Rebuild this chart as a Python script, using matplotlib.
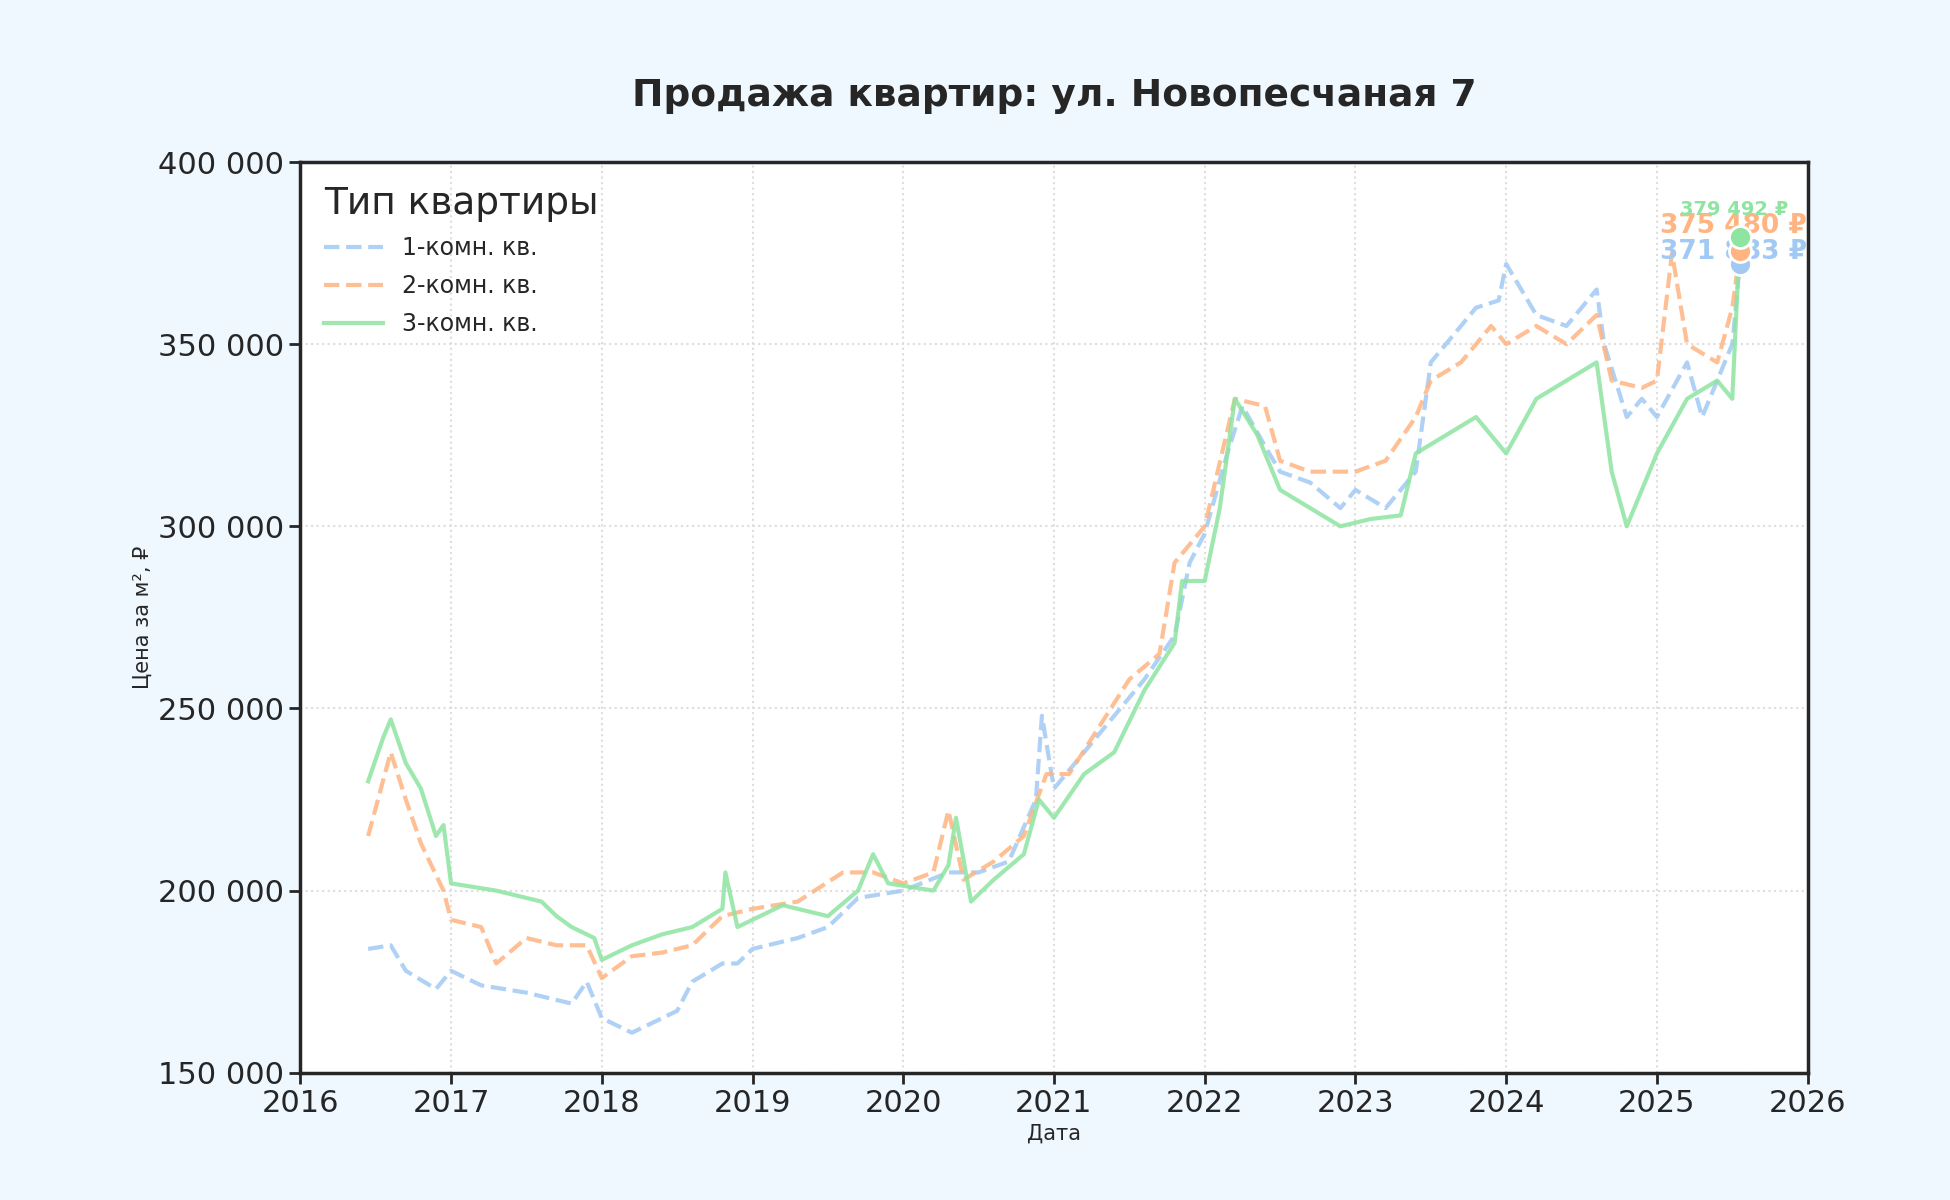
import matplotlib
matplotlib.use("Agg")
import matplotlib.pyplot as plt

x1 = [2016.45,2016.6,2016.7,2016.9,2017.0,2017.2,2017.5,2017.8,2017.9,2018.0,2018.2,2018.4,2018.5,2018.6,2018.8,2018.9,2019.0,2019.3,2019.5,2019.7,2020.0,2020.3,2020.5,2020.7,2020.88,2020.92,2021.0,2021.2,2021.4,2021.6,2021.8,2021.9,2022.0,2022.15,2022.25,2022.4,2022.5,2022.7,2022.9,2023.0,2023.2,2023.4,2023.5,2023.7,2023.8,2023.95,2024.0,2024.2,2024.4,2024.6,2024.65,2024.8,2024.9,2025.0,2025.2,2025.3,2025.5,2025.55]
y1 = [184,185,178,173,178,174,172,169,175,165,161,165,167,175,180,180,184,187,190,198,200,205,205,208,225,248,228,238,248,258,270,290,298,320,333,322,315,312,305,310,305,315,345,355,360,362,372,358,355,365,350,330,335,330,345,330,350,371.883]
x2 = [2016.45,2016.6,2016.7,2016.8,2016.95,2017.0,2017.2,2017.3,2017.5,2017.7,2017.9,2018.0,2018.2,2018.4,2018.6,2018.8,2019.0,2019.3,2019.6,2019.8,2020.0,2020.2,2020.3,2020.4,2020.6,2020.8,2020.95,2021.1,2021.3,2021.5,2021.7,2021.8,2022.0,2022.2,2022.4,2022.5,2022.7,2022.9,2023.0,2023.2,2023.4,2023.5,2023.7,2023.9,2024.0,2024.2,2024.4,2024.6,2024.7,2024.9,2025.0,2025.1,2025.2,2025.4,2025.5,2025.55]
y2 = [215,238,225,213,200,192,190,180,187,185,185,176,182,183,185,193,195,197,205,205,202,205,222,203,208,215,232,232,245,258,265,290,300,335,333,318,315,315,315,318,330,340,345,355,350,355,350,358,340,338,340,375,350,345,360,375.48]
x3 = [2016.45,2016.55,2016.6,2016.7,2016.8,2016.9,2016.95,2017.0,2017.3,2017.6,2017.7,2017.8,2017.95,2018.0,2018.2,2018.4,2018.6,2018.8,2018.82,2018.9,2019.2,2019.5,2019.7,2019.8,2019.9,2020.2,2020.3,2020.35,2020.45,2020.6,2020.8,2020.9,2021.0,2021.2,2021.4,2021.6,2021.8,2021.85,2022.0,2022.1,2022.2,2022.35,2022.5,2022.7,2022.9,2023.1,2023.3,2023.4,2023.6,2023.8,2024.0,2024.2,2024.4,2024.6,2024.7,2024.8,2024.9,2025.0,2025.2,2025.4,2025.5,2025.55]
y3 = [230,242,247,235,228,215,218,202,200,197,193,190,187,181,185,188,190,195,205,190,196,193,200,210,202,200,207,220,197,203,210,225,220,232,238,255,268,285,285,305,335,325,310,305,300,302,303,320,325,330,320,335,340,345,315,300,310,320,335,340,335,379.492]
labels = ["1-комн. кв.", "2-комн. кв.", "3-комн. кв."]
colors = ["#a1c9f4", "#ffb482", "#8de5a1"]

plt.rcParams["text.color"] = "#262626"
plt.rcParams["axes.labelcolor"] = "#262626"
plt.rcParams["xtick.color"] = "#262626"
plt.rcParams["ytick.color"] = "#262626"

fig = plt.figure(figsize=(19.5, 12), dpi=100, facecolor="#f0f8ff")
ax = fig.add_axes([0.154, 0.106, 0.773, 0.759])
ax.set_facecolor("white")
series = [(x1, y1, "--"), (x2, y2, "--"), (x3, y3, "-")]
for (xs, ys, ls), lab, c in zip(series, labels, colors):
    yy = [v * 1000 for v in ys]
    ax.plot(xs, yy, ls, color=c, lw=3, alpha=0.85, label=lab)
    ax.scatter([xs[-1]], [yy[-1]], s=250, color=c, edgecolor="white", linewidth=2, zorder=5)
ax.text(x1[-1] - 0.04, y1[-1]*1000 + 3500, f"{y1[-1]*1000:,.0f} ₽".replace(",", " "), color=colors[0], ha="center", fontsize=19, fontweight="bold", va="center")
ax.text(x2[-1] - 0.04, y2[-1]*1000 + 7000, f"{y2[-1]*1000:,.0f} ₽".replace(",", " "), color=colors[1], ha="center", fontsize=19, fontweight="bold", va="center")
ax.text(x3[-1] - 0.04, 379492 + 7500, "379 492 ₽", color=colors[2], ha="center", fontsize=14, fontweight="bold", va="center")
ax.set_xlim(2016, 2026)
ax.set_ylim(150000, 400000)
ax.set_xticks(range(2016, 2027))
ax.set_yticks(range(150000, 400001, 50000))
ax.set_yticklabels([f"{v:,}".replace(",", " ") for v in range(150000, 400001, 50000)])
ax.tick_params(labelsize=22, length=8, width=2)
for s in ax.spines.values():
    s.set_linewidth(2.5); s.set_color("#262626")
ax.grid(True, ls=":", color="#dddddd", lw=1.5)
ax.set_xlabel("Дата", fontsize=15)
ax.set_ylabel("Цена за м², ₽", fontsize=15)
ax.set_title("Продажа квартир: ул. Новопесчаная 7", fontsize=27, fontweight="bold", pad=40)
leg = ax.legend(title="Тип квартиры", loc="upper left", fontsize=17, title_fontsize=27,
                frameon=False, labelspacing=0.6, handlelength=2.5, borderpad=0.5)
leg._legend_box.align = "left"
fig.savefig("out.png", dpi=100, facecolor=fig.get_facecolor())
